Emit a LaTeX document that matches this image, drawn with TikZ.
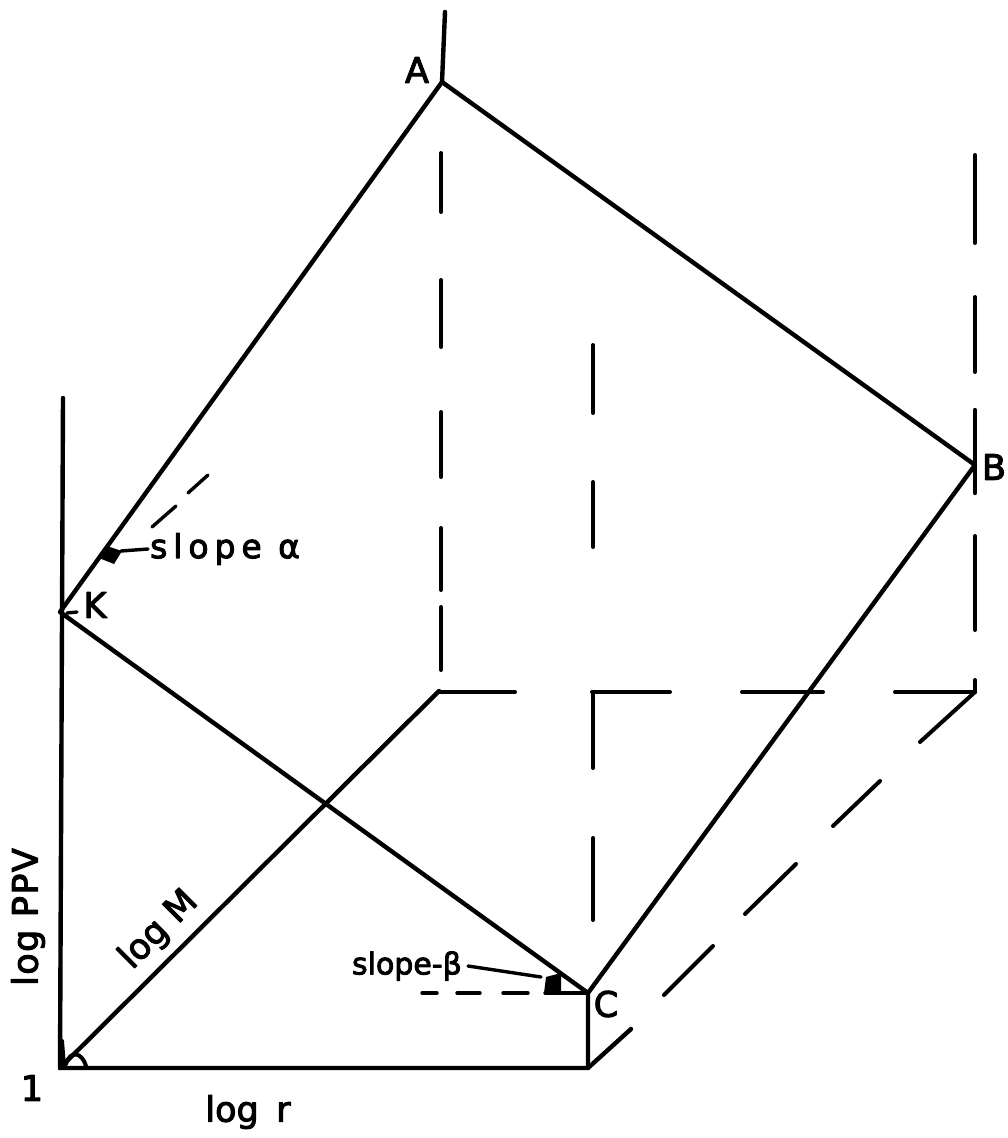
\documentclass[tikz,border=0pt]{standalone}
\usepackage{fontspec}
\setmainfont{DejaVu Sans}
\newfontfamily\letn[FakeBold=3]{DejaVu Sans}
\newfontfamily\letw[FakeBold=3,LetterSpace=4]{DejaVu Sans}
\newfontfamily\letx[FakeBold=3,LetterSpace=18]{DejaVu Sans}
\begin{document}
\begin{tikzpicture}[x=1pt,y=-1pt,line cap=round,line join=round,
  edge/.style={line width=4.4pt},
  guide/.style={line width=4pt},
  thin guide/.style={line width=3.4pt},
  lbl/.style={font=\letn\fontsize{35}{35}\selectfont,inner sep=0pt},
  lblw/.style={font=\letw\fontsize{35}{35}\selectfont,inner sep=0pt},
  lblx/.style={font=\letx\fontsize{33}{33}\selectfont,inner sep=0pt},
  lbls/.style={font=\letn\fontsize{30}{30}\selectfont,inner sep=0pt}]
\useasboundingbox (0,0) rectangle (1008,1138);
% main points
\coordinate (O) at (60,1068);
\coordinate (T) at (63,398);
\coordinate (K) at (60,612);
\coordinate (A) at (442,82);
\coordinate (Atop) at (445,12);
\coordinate (B) at (975,465);
\coordinate (Bt) at (975,410);
\coordinate (Bb) at (975,493);
\coordinate (C) at (588,993);
\coordinate (R) at (588,1068);
\coordinate (P) at (439,691);
\coordinate (Rd) at (631,1029);
% solid frame
\draw[edge] (T) -- (O) -- (R) -- (C);
\draw[edge] (O) -- (P);
\draw[edge] (K) -- (A) -- (B) -- (C) -- (K);
\draw[edge] (A) -- (Atop);
\draw[edge] (Bt) -- (Bb);
\draw[edge] (R) -- (Rd);
% dashed vertical under A
\foreach \a/\b in {153/212,280/347,412/477,528/590,607/670}
  \draw[guide] (441,\a) -- (441,\b);
% dashed vertical x=593
\foreach \a/\b in {345/413,482/547,692/768,838/920}
  \draw[guide] (593,\a) -- (593,\b);
% dashed vertical under B
\foreach \a/\b in {155/243,297/372,536/630}
  \draw[guide] (975,\a) -- (975,\b);
\draw[guide] (975,680) -- (975,692);
% dashed back horizontal
\foreach \a/\b in {439/515,592/670,742/823,895/975}
  \draw[guide] (\a,692) -- (\b,692);
% dashed diagonal
\draw[guide] (975,692) -- (920,742);
\draw[guide] (880,781) -- (833,826);
\draw[guide] (796,864) -- (745,914);
\draw[guide] (713,946) -- (664,995);
% dashed horizontal at C
\foreach \a/\b in {422/437,457/480,503/528}
  \draw[thin guide] (\a,993) -- (\b,993);
\draw[thin guide] (545,993) -- (C);
% dashed at K
\draw[thin guide] (152,527) -- (176,506);
\draw[thin guide] (188,493) -- (208,475);
% angle marks
\fill (99,558) -- (107,546) -- (122,551) -- (114,564) -- cycle;
\fill (544,993) -- (546,977) -- (561,973) -- (561,993) -- cycle;
\draw[line width=4pt] (62,1041) -- (64,1066);
\draw[line width=4pt] (66,1064) .. controls (70,1050) and (82,1052) .. (86,1066);
% labels
\node[lbl] (lA) at (417,70) {A};
\node[lbl] (lB) at (994,467) {B};
\node[lbl] (lC) at (606,1004) {C};
\node[lbl] (lK) at (95,605) {K};
\draw[line width=3.4pt] (67,613) -- (77,612);
\node[lbl] (l1) at (32,1088) {1};
\node[lbl] (lr) at (248,1112) {log\hspace{0.5em}r};
\node[lblw,rotate=90] (lppv) at (28,917) {log PPV};
\node[lbl,rotate=45] (lM) at (159,930) {log M};
\node[lblx,anchor=west] (sa) at (150,549) {slope α};
\node[lbls,anchor=east] (sb) at (462,966) {slope-β};
\draw[line width=3.4pt] (sa.west) ++(-2,0) -- (121,551);
\draw[line width=3.4pt] (sb.east) ++(6,0) -- (541,977);
\end{tikzpicture}
\end{document}
